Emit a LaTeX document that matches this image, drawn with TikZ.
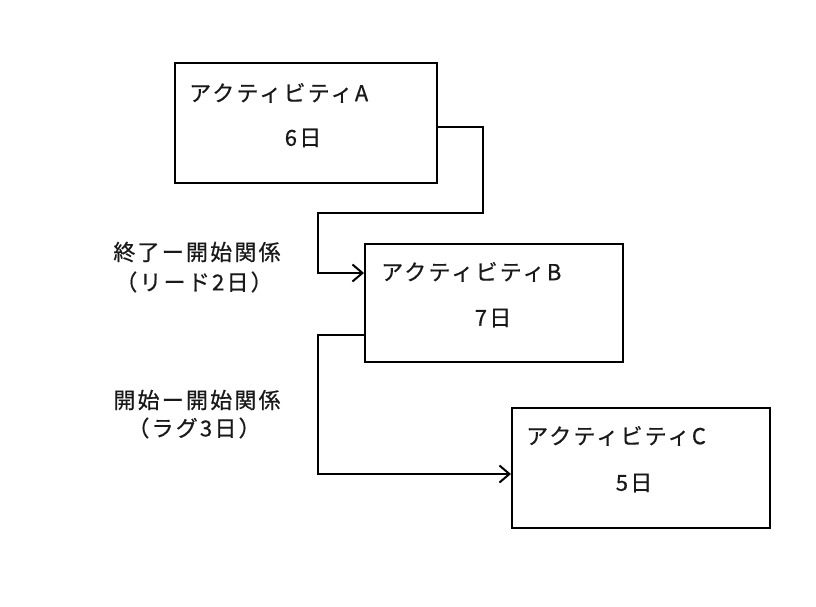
\documentclass[tikz,border=0pt]{standalone}
\usepackage{fontspec}
\setmainfont{Noto Sans CJK JP}[LetterSpace=10, FakeBold=0.6]
\usetikzlibrary{arrows.meta}
\tikzset{
  box/.style={draw=black, line width=2pt, rectangle, minimum width=#1, inner sep=0pt},
  box/.default=260pt,
  txt/.style={font=\fontsize{22pt}{24pt}\selectfont, inner sep=0pt, text=black!90},
  conn/.style={draw=black, line width=2pt},
  arr/.style={-{Straight Barb[length=10pt,width=17pt,line width=2pt]}}
}
\begin{document}
\begin{tikzpicture}[x=1pt,y=-1pt]
\useasboundingbox (0,0) rectangle (816,607);
\fill[white] (0,0) rectangle (816,607);
% boxes
\node[box=262pt, minimum height=120pt] (A) at (306,123) {};
\node[box=258pt, minimum height=118pt] (B) at (494,303) {};
\node[box=258pt, minimum height=120pt] (C) at (641,468) {};
% box texts
\node[txt, anchor=west] (Atitle) at (189,93) {アクティビティA};
\node[txt] (Adays) at (303,138) {6日};
\node[txt, anchor=west] (Btitle) at (381,272) {アクティビティB};
\node[txt] (Bdays) at (493,318) {7日};
\node[txt, anchor=west] (Ctitle) at (526,436) {アクティビティC};
\node[txt] (Cdays) at (634,483) {5日};
% relation labels
\node[txt] (L1a) at (197,252) {終了ー開始関係};
\node[txt] (L1b) at (194,282) {（リード2日）};
\node[txt] (L2a) at (197,400) {開始ー開始関係};
\node[txt] (L2b) at (194,428) {（ラグ3日）};
% connectors
\coordinate (k1) at (483,213);
\coordinate (k2) at (318,273);
\coordinate (k3) at (318,474);
\draw[conn, arr] ([yshift=-4pt]A.east) -| (k1) -| (k2) -- (B.west |- k2);
\draw[conn, arr] ([yshift=-32pt]B.west) -| (k3) -- (C.west |- k3);
\end{tikzpicture}
\end{document}
